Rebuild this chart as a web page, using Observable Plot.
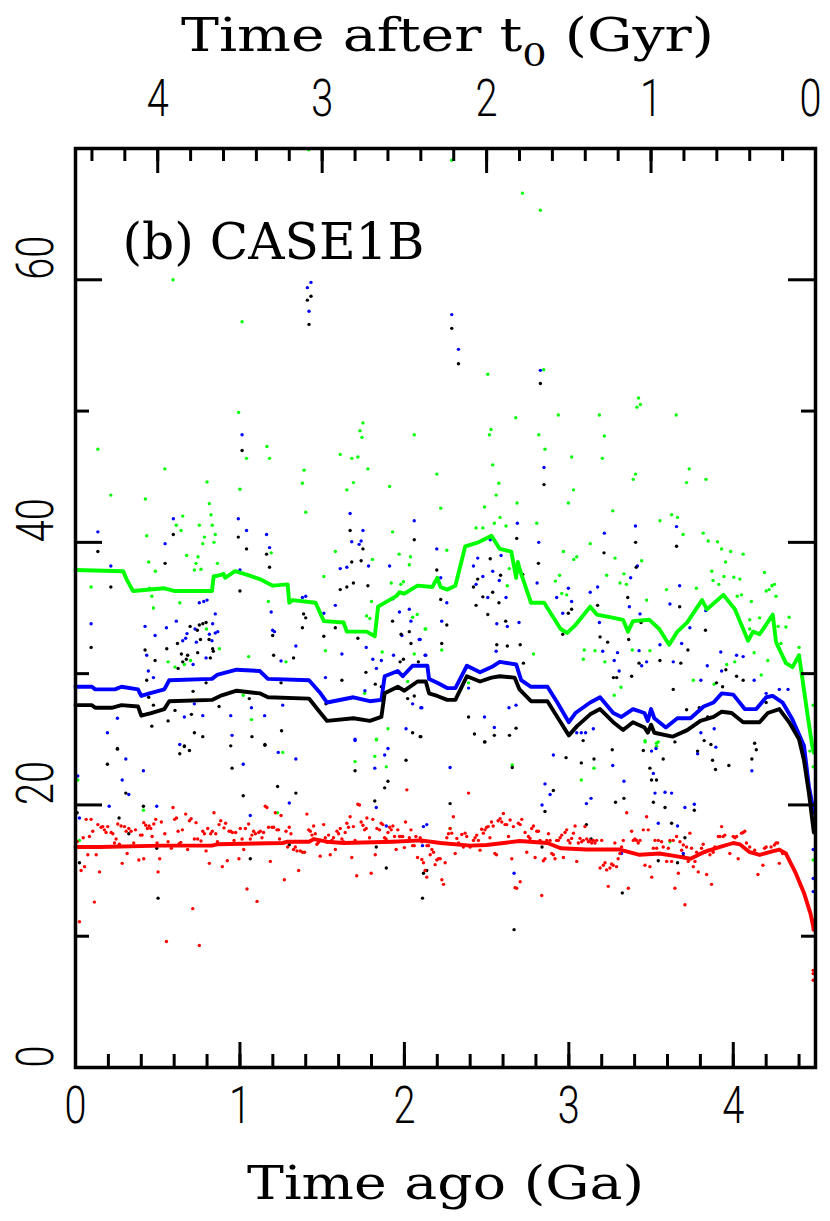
<!DOCTYPE html>
<html><head><meta charset="utf-8">
<script src="https://cdn.jsdelivr.net/npm/d3@7"></script>
<script src="https://cdn.jsdelivr.net/npm/@observablehq/plot@0.6"></script>
<style>body{margin:0;background:#fff}</style>
</head><body><div id="chart"></div>
<script>
// ---------- axis definitions ----------
const T_TOTAL = 4.5;                 // Ga: x = "time ago"; top axis = T_TOTAL - ago
const xDomain = [0, 4.5];
const yDomain = [0, 70];
const xMajor = [0, 1, 2, 3, 4];
const xMinor = d3.range(0.2, 4.45, 0.2);
const topMajor = [4, 3, 2, 1, 0];     // "Time after t0" labels
const topMinor = d3.range(0.2, 4.45, 0.2);
const yMajor = [0, 20, 40, 60];
const yMinor = [10, 30, 50];
const topTitle = "Time after t0 (Gyr)";
const bottomTitle = "Time ago (Ga)";
const panelLabel = "(b) CASE1B";

// ---------- running lines [t, value] ----------
const greenLine = [[0,37.9],[0.29,37.8],[0.31,37.2],[0.35,36.3],[0.54,36.5],[0.60,36.3],[0.83,36.3],[0.84,37.4],[0.88,37.5],[0.90,37.6],[0.91,37.3],[0.97,37.8],[1.05,37.5],[1.12,37.2],[1.20,36.7],[1.29,36.8],[1.30,35.4],[1.32,35.6],[1.46,35.4],[1.51,34.0],[1.63,33.9],[1.65,33.2],[1.77,33.2],[1.82,32.85],[1.84,35.1],[1.95,35.9],[1.97,36.2],[2.0,36.1],[2.08,36.7],[2.17,36.6],[2.20,37.3],[2.22,36.6],[2.26,36.4],[2.31,36.7],[2.37,39.7],[2.45,40.0],[2.53,40.5],[2.58,39.5],[2.65,39.3],[2.68,37.3],[2.69,38.5],[2.70,38.0],[2.74,36.5],[2.77,35.4],[2.85,35.4],[2.95,33.4],[2.99,33.1],[3.04,33.7],[3.13,35.1],[3.17,34.5],[3.25,34.3],[3.33,34.1],[3.36,33.2],[3.39,34.0],[3.49,34.1],[3.55,33.4],[3.61,32.2],[3.66,33.2],[3.72,33.9],[3.81,35.6],[3.84,34.9],[3.94,36.0],[4.01,34.9],[4.09,32.5],[4.12,33.2],[4.16,33.0],[4.24,34.5],[4.26,32.4],[4.32,30.8],[4.36,30.5],[4.40,31.4],[4.45,27.0],[4.48,24.5],[4.49,24.0]];
const blueLine = [[0,29.0],[0.10,29.0],[0.12,28.8],[0.24,28.8],[0.28,29.0],[0.38,28.8],[0.40,28.3],[0.45,28.5],[0.54,28.8],[0.57,29.5],[0.83,29.6],[0.86,29.9],[0.98,30.3],[1.12,30.2],[1.17,29.6],[1.42,29.5],[1.49,28.5],[1.53,27.8],[1.69,28.2],[1.79,27.9],[1.86,28.0],[1.88,29.8],[1.96,30.2],[1.99,29.8],[2.05,30.6],[2.14,30.6],[2.15,29.6],[2.20,29.3],[2.26,28.9],[2.31,28.9],[2.38,30.6],[2.46,30.1],[2.53,30.5],[2.58,30.9],[2.68,30.7],[2.71,29.5],[2.77,29.0],[2.87,29.0],[2.93,27.8],[3.00,26.3],[3.04,27.0],[3.13,27.8],[3.19,28.2],[3.27,27.0],[3.32,26.7],[3.39,27.3],[3.46,27.0],[3.48,26.4],[3.50,27.3],[3.52,26.6],[3.59,25.9],[3.66,26.6],[3.74,26.6],[3.82,27.5],[3.88,27.8],[3.93,28.5],[4.00,28.4],[4.07,27.3],[4.14,27.3],[4.20,28.2],[4.24,28.3],[4.30,27.8],[4.36,26.5],[4.43,24.5],[4.46,21.4],[4.49,19.4]];
const blackLine = [[0,27.6],[0.10,27.6],[0.12,27.4],[0.22,27.4],[0.28,27.6],[0.38,27.5],[0.40,26.8],[0.46,27.0],[0.54,27.3],[0.57,27.9],[0.83,28.0],[0.88,28.3],[0.98,28.7],[1.12,28.5],[1.17,28.2],[1.42,28.1],[1.49,27.0],[1.53,26.4],[1.69,26.6],[1.79,26.4],[1.86,26.7],[1.88,28.5],[1.96,29.0],[2.00,28.7],[2.08,29.4],[2.13,29.4],[2.15,28.5],[2.20,28.3],[2.26,28.0],[2.31,28.0],[2.38,29.8],[2.46,29.4],[2.53,29.7],[2.58,29.8],[2.67,29.7],[2.70,28.8],[2.77,27.9],[2.87,27.9],[2.93,26.7],[3.00,25.3],[3.05,26.0],[3.13,26.9],[3.19,27.3],[3.27,26.3],[3.33,25.7],[3.39,26.3],[3.46,25.9],[3.48,25.5],[3.50,26.1],[3.52,25.5],[3.63,25.2],[3.72,25.7],[3.80,26.4],[3.88,26.7],[3.93,27.1],[3.99,27.0],[4.06,26.3],[4.16,26.3],[4.21,27.0],[4.28,27.3],[4.34,26.3],[4.40,25.0],[4.43,23.4],[4.46,20.9],[4.49,17.9]];
const redLine = [[0,16.8],[0.15,16.8],[0.52,16.9],[0.83,16.9],[0.86,17.0],[1.26,17.1],[1.29,17.2],[1.42,17.2],[1.45,17.4],[1.53,17.2],[1.63,17.1],[1.93,17.2],[2.10,17.3],[2.22,17.1],[2.40,16.9],[2.50,16.95],[2.70,17.25],[2.87,17.1],[2.95,16.7],[3.11,16.6],[3.31,16.6],[3.43,16.2],[3.55,16.3],[3.65,16.1],[3.74,15.9],[3.82,16.4],[3.92,16.8],[4.00,17.1],[4.04,17.0],[4.10,16.4],[4.16,16.2],[4.22,16.4],[4.28,16.6],[4.32,16.3],[4.38,14.8],[4.43,13.3],[4.47,11.7],[4.49,10.5]];

// ---------- individual samples [t, value] ----------
const greenPts = [[1.418,69.9],[0.593,60.0],[1.013,56.8],[0.992,49.9],[0.136,47.1],[1.164,47.3],[1.748,49.1],[1.73,48.5],[1.742,48.0],[2.06,48.2],[1.61,46.7],
[2.288,69.1],[2.718,66.6],[2.827,65.3],[2.507,52.8],[2.847,53.15],[2.677,49.5],[2.936,49.7],[3.186,49.7],[2.527,48.6],[2.517,48.2],[2.817,48.2],[3.216,48.1],[2.855,47.1],[3.017,46.5],[3.204,46.4],[3.424,51.0],[3.435,50.5],[3.414,50.3],[3.653,49.7],
[0.543,45.6],[0.215,43.6],[0.425,43.3],[0.80,44.6],[0.814,42.95],[0.824,42.1],[1.0,44.05],[1.04,46.4],[1.18,46.4],[1.39,45.5],[1.38,44.5],[1.40,42.3],[1.68,46.4],[1.717,46.5],[1.69,44.55],[1.65,44.0],[1.778,45.6],[1.91,44.25],[2.197,45.2],[1.928,40.8],[0.652,42.0],[0.613,41.3],[0.642,40.9],[0.433,40.5],[0.753,41.3],[0.832,41.3],[0.784,40.4],[0.85,40.6],[0.774,39.9],[0.842,40.0],[0.676,39.0],[0.745,38.9],[0.733,38.4],[0.445,38.5],[0.723,37.9],[0.763,37.95],[0.486,37.8],[0.863,38.4],[0.095,36.6],[0.45,36.5],[0.464,35.9],[0.474,35.0],[0.634,35.4],[1.58,39.3],[1.51,37.4],[1.806,38.7],[1.968,39.1],[2.037,38.9],[2.03,38.3],[1.92,36.9],[1.978,36.8],[1.994,37.0],[2.13,33.4],[2.078,34.5],[2.05,34.3],[1.80,35.5],[1.77,34.4],[1.79,34.2],[1.173,35.5],[1.19,39.2],[1.053,31.3],[0.796,33.4],[0.875,31.9],[0.563,30.9],[0.605,30.5],[0.662,30.7],[0.70,31.0],[1.52,31.75],[1.28,30.9],[1.865,31.65],[2.06,31.5],[2.02,29.4],[1.758,28.5],[1.02,28.35],[1.07,26.5],[1.90,25.8],[1.83,24.96],
[2.537,45.9],[2.574,44.5],[2.558,43.6],[2.487,42.7],[2.436,41.1],[2.477,41.1],[2.547,41.45],[2.582,41.9],[2.618,41.25],[2.685,43.0],[2.805,41.45],[2.997,43.0],[3.028,44.0],[2.221,42.6],[2.258,39.4],[2.126,33.4],[2.227,31.8],[2.638,38.0],[2.626,36.7],[3.267,42.4],[3.392,44.8],[3.406,45.2],[3.554,41.65],[3.625,42.1],[3.661,41.9],[3.695,40.6],[3.716,44.55],[3.732,45.6],[3.834,44.8],[3.817,40.7],[3.848,40.1],[3.904,40.05],[3.953,38.5],[3.943,37.4],[3.984,39.3],[4.06,39.1],[3.929,39.5],[3.869,37.8],[3.877,37.1],[3.912,36.8],[4.003,37.35],[4.04,37.2],[4.024,35.9],[4.05,36.0],[4.11,35.5],[4.19,37.7],[4.2,36.3],[4.235,36.7],[4.25,36.8],[4.26,35.9],[4.218,36.4],[4.273,33.6],[4.32,33.55],[4.29,32.3],[4.34,34.3],[4.40,32.0],[4.16,34.25],[4.1,34.1],[4.10,33.4],[4.127,31.6],[4.21,31.0],[4.17,29.9],[4.009,30.9],[3.96,30.7],[3.594,36.4],[3.776,36.5],[3.443,38.6],[3.473,35.6],[3.335,37.6],[3.35,36.8],[3.311,36.9],[3.281,38.8],[3.23,37.5],[3.13,39.9],[3.048,38.9],[3.03,38.7],[2.967,39.3],[2.944,37.5],[2.918,37.05],[2.957,36.1],[2.987,36.0],[3.094,31.8],[3.088,31.1],[3.159,31.75],[3.219,30.9],[3.386,31.8],[3.493,31.75],[3.276,28.35],[3.317,28.96],[2.785,31.5],[2.39,29.3],[3.463,24.9],[3.533,24.7],[4.486,27.6],[3.757,29.5],[3.884,29.2],
[0.014,21.9],[0.024,17.3],[0.413,19.6],[1.229,19.4],[1.26,24.0],[1.70,23.3],[1.82,23.7],[1.83,25.0],[1.89,22.9],
[2.656,23.05],[2.278,18.2],[3.076,21.9],[3.153,22.8],[3.464,24.8],[3.533,24.45],[3.544,24.8],[3.615,17.2],[4.466,24.1],[4.486,22.9],[4.486,19.6],[4.486,15.8]];

const bluePts = [[1.432,59.8],[1.41,59.4],[1.42,57.6],[1.013,48.2],[2.288,57.35],[2.329,54.7],[2.827,53.1],
[0.136,40.8],[0.215,38.2],[0.095,33.8],[0.595,41.8],[0.545,39.9],[0.99,41.8],[1.04,40.9],[1.162,40.6],[1.18,39.6],[1.0,37.9],[0.753,35.4],[0.78,35.5],[0.80,35.6],[0.85,34.55],[0.613,34.0],[0.834,33.8],[0.865,33.2],[0.85,33.1],[0.423,33.6],[0.484,32.9],[0.553,33.5],[0.678,33.05],[0.67,32.7],[0.652,32.5],[0.735,32.4],[0.727,33.4],[0.814,33.0],[0.83,32.5],[0.433,31.4],[0.794,31.2],[0.715,30.7],[0.443,30.2],[0.474,29.7],[1.67,42.2],[1.68,40.05],[1.737,40.1],[1.748,40.9],[1.725,39.85],[1.782,38.2],[1.65,38.1],[1.61,38.0],[1.91,38.2],[1.93,35.7],[2.06,41.65],[2.197,39.5],[1.97,34.7],[2.03,34.9],[2.04,34.0],[1.985,32.9],[1.51,34.6],[1.58,35.2],[1.40,35.9],[1.38,35.8],[1.19,34.7],[1.21,33.2],[1.199,33.3],[1.62,31.5],[1.768,32.0],[1.808,31.1],[1.86,31.0],[1.83,30.4],[1.934,31.4],[2.13,31.4],[2.09,32.6],[1.25,30.97],[1.34,32.1],[1.52,29.7],[1.76,28.7],[2.05,27.7],[2.10,27.4],[1.26,27.6],[1.15,26.8],[1.07,27.4],[0.944,26.8],[0.774,26.8],[0.662,26.7],[0.723,27.7],[0.255,26.6],[0.194,25.5],[0.952,25.3],[0.634,24.6],[1.70,25.0],[2.01,25.8],[1.90,24.3],
[2.849,45.7],[2.221,37.3],[2.258,35.4],[2.227,34.0],[2.126,31.4],[2.42,38.2],[2.446,38.8],[2.436,36.8],[2.477,37.4],[2.507,35.8],[2.537,37.8],[2.577,37.1],[2.588,39.0],[2.522,40.2],[2.687,41.45],[2.817,40.0],[2.807,36.9],[2.562,33.8],[2.618,35.8],[2.626,33.6],[2.697,33.9],[2.558,31.7],[2.636,27.4],[2.679,27.6],[2.547,25.9],[2.487,26.7],[2.39,28.9],[3.017,35.5],[2.926,35.8],[2.963,34.6],[2.997,36.5],[3.13,36.2],[3.175,36.6],[3.216,40.7],[3.186,33.9],[3.206,31.7],[3.276,31.0],[3.296,31.6],[3.306,30.2],[3.368,35.1],[3.376,37.3],[3.405,41.25],[3.417,38.2],[3.433,34.55],[3.427,31.75],[3.473,30.9],[3.443,30.6],[3.554,32.2],[3.655,41.2],[3.674,36.7],[3.615,35.3],[3.635,30.9],[3.686,32.3],[3.736,33.5],[3.803,29.5],[3.842,30.6],[3.924,31.65],[3.929,30.2],[4.02,31.4],[4.06,31.3],[4.127,29.5],[4.28,28.8],[4.333,28.8],[4.2,28.5],[3.803,25.5],[3.884,25.8],[3.833,34.8],[2.096,32.6],[2.106,27.4],[3.076,25.5],[3.048,25.5],[3.149,25.8],[3.102,25.5],
[0.014,22.2],[0.024,19.0],[0.205,19.9],[0.284,21.9],[0.306,23.5],[0.324,20.8],[0.413,22.6],[0.494,19.9],[1.02,23.1],[1.063,19.2],[1.233,24.0],[1.34,23.5],[1.30,20.15],[1.70,24.9],[1.82,22.8],[1.88,23.8],[1.829,19.8],[1.89,18.4],[2.11,16.9],[2.116,18.35],[2.136,18.5],
[2.278,22.85],[2.667,14.8],[2.906,23.8],[2.837,20.0],[2.855,21.6],[2.886,20.8],[3.107,20.1],[3.135,20.5],[3.267,23.0],[3.335,21.8],[3.503,24.1],[3.514,22.4],[3.524,20.9],[3.53,24.3],[3.544,18.6],[3.585,20.97],[3.625,20.9],[3.661,18.4],[3.706,19.8],[3.763,20.05],[3.783,23.9],[3.894,24.4],[4.113,22.6],[3.32,16.3],[3.696,16.3],[4.486,20.1],[4.486,16.6],[4.486,14.4],[4.486,13.4]];

const blackPts = [[1.432,58.75],[1.41,58.45],[1.42,56.6],[1.013,47.0],[2.288,56.3],[2.329,53.6],[2.827,52.1],
[0.136,39.3],[0.215,36.6],[0.095,32.0],[0.595,40.6],[0.545,38.4],[0.99,40.4],[1.04,39.5],[1.162,39.1],[1.18,38.1],[1.0,36.3],[1.67,40.9],[1.68,38.5],[1.737,38.6],[1.748,39.5],[1.69,36.9],[1.65,36.6],[1.61,36.4],[1.778,36.7],[2.06,40.2],[2.197,37.9],[1.387,34.55],[1.40,34.25],[1.38,33.5],[1.51,32.85],[1.58,33.5],[1.717,32.7],[1.928,34.0],[2.03,33.2],[1.98,33.0],[2.04,32.3],[1.994,31.1],[2.085,30.9],[0.753,33.7],[0.774,33.8],[0.794,33.9],[0.697,33.6],[0.741,33.3],[0.76,32.6],[0.812,32.6],[0.834,31.9],[0.838,31.7],[0.62,32.3],[0.644,31.5],[0.682,31.4],[0.674,31.1],[0.652,30.9],[0.743,31.6],[0.624,30.4],[0.82,31.2],[0.555,31.9],[0.484,31.0],[0.423,31.8],[0.433,29.5],[0.445,28.2],[0.474,27.6],[1.199,32.9],[1.205,31.4],[1.326,31.2],[1.62,29.5],[1.766,30.1],[1.823,29.2],[1.86,29.0],[1.974,30.9],[2.02,28.1],[2.06,28.3],[1.25,29.3],[0.794,29.3],[0.715,28.65],[0.873,27.5],[1.057,28.1],[0.605,27.2],[0.705,26.9],[0.464,26.0],[0.563,26.4],[0.723,25.5],[0.774,25.2],[1.073,25.2],[1.253,25.65],[1.152,24.6],[0.944,24.5],[0.662,24.45],[0.255,24.3],[2.05,25.5],[2.10,25.2],[1.523,27.7],
[2.849,44.4],[2.683,40.3],[2.815,38.4],[2.522,38.75],[2.42,36.6],[2.446,37.2],[2.477,35.85],[2.537,36.2],[2.585,37.5],[2.575,35.4],[2.436,35.2],[2.507,34.5],[2.221,35.65],[2.258,33.7],[2.227,32.3],[2.616,34.0],[2.626,32.1],[2.704,32.2],[2.562,32.2],[2.72,37.55],[2.724,30.8],[2.39,26.7],[2.426,25.4],[2.547,25.3],[2.639,25.3],[2.679,25.85],[2.487,24.8],[2.096,25.2],[3.017,34.9],[2.963,33.0],[2.997,34.6],[3.175,35.2],[3.19,32.8],[3.236,32.4],[3.214,39.2],[3.271,29.7],[3.291,29.7],[3.382,29.8],[3.358,35.8],[3.364,32.6],[3.406,40.0],[3.41,38.1],[3.427,30.8],[3.439,33.9],[3.554,31.0],[3.635,28.8],[3.681,30.8],[3.655,39.7],[3.674,35.1],[3.724,31.8],[3.831,33.3],[3.898,29.3],[3.935,29.0],[3.955,30.3],[4.02,29.8],[4.06,29.5],[4.2,27.8],[4.233,28.3],[3.716,27.25],[3.793,27.4],[3.844,26.7],
[0.194,23.1],[0.255,24.25],[0.306,20.9],[0.324,17.8],[0.413,19.9],[0.494,16.7],[0.502,12.9],[0.634,23.9],[0.662,24.5],[0.693,24.15],[0.952,22.8],[1.02,20.7],[1.063,15.9],[1.152,24.55],[1.229,21.4],[1.34,20.9],[1.30,16.97],[1.70,22.6],[1.82,20.3],[1.88,21.3],[1.90,21.8],[1.829,16.8],[1.89,15.2],[2.01,23.4],[2.11,12.9],[2.116,14.8],[2.136,15.0],[0.01,19.4],[0.024,15.6],[0.265,19.0],
[2.278,20.1],[2.49,24.8],[2.656,22.85],[2.667,10.5],[2.837,16.8],[2.855,19.5],[2.906,21.1],[2.983,23.6],[3.076,23.2],[3.087,24.9],[3.153,23.5],[3.135,17.4],[3.107,18.5],[3.264,24.2],[3.284,20.2],[3.335,20.5],[3.325,13.3],[3.453,24.15],[3.493,22.8],[3.503,21.9],[3.514,20.2],[3.533,21.9],[3.544,15.75],[3.574,23.5],[3.585,19.8],[3.625,18.6],[3.645,24.8],[3.661,15.6],[3.696,16.1],[3.706,17.5],[3.763,19.6],[3.783,24.1],[3.823,24.9],[3.864,24.6],[3.874,23.4],[3.892,22.7],[3.973,23.0],[4.113,23.5],[4.13,24.7],[4.14,24.2]];

const redPts = [[0.01,17.2],[0.024,11.1],[0.034,15.0],[0.047,17.5],[0.055,15.3],[0.065,18.9],[0.085,17.6],[0.075,16.2],[0.095,18.9],[0.105,18.0],[0.115,12.6],[0.126,16.2],[0.136,18.5],[0.146,14.9],[0.156,18.3],[0.166,18.35],[0.176,18.1],[0.186,17.9],[0.196,18.35],[0.217,17.9],[0.227,17.8],[0.237,17.1],[0.247,17.4],[0.257,18.55],[0.267,17.0],[0.277,18.4],[0.284,15.55],[0.298,18.35],[0.308,18.0],[0.314,16.3],[0.324,18.2],[0.338,18.0],[0.354,17.1],[0.365,18.1],[0.385,15.8],[0.395,17.7],[0.405,17.7],[0.415,18.65],[0.415,15.9],[0.427,18.45],[0.437,18.2],[0.448,18.4],[0.458,18.2],[0.466,17.6],[0.476,18.55],[0.488,18.9],[0.496,17.1],[0.502,14.9],[0.512,15.9],[0.522,18.7],[0.543,17.8],[0.553,9.6],[0.563,17.2],[0.583,16.7],[0.593,19.8],[0.603,18.9],[0.614,19.0],[0.624,18.0],[0.63,17.05],[0.64,17.15],[0.65,18.1],[0.67,19.3],[0.682,16.6],[0.693,18.8],[0.703,18.95],[0.713,12.1],[0.723,17.4],[0.733,18.65],[0.743,17.4],[0.753,9.3],[0.763,17.25],[0.774,18.0],[0.784,17.8],[0.794,16.5],[0.804,18.2],[0.814,15.55],[0.822,17.8],[0.832,18.0],[0.842,19.4],[0.853,17.8],[0.863,17.2],[0.873,18.5],[0.883,18.8],[0.893,15.3],[0.903,18.25],[0.913,18.6],[0.923,15.75],[0.934,18.0],[0.944,18.0],[0.954,17.9],[0.964,17.3],[0.974,17.9],[0.994,15.9],[1.002,18.2],[1.013,17.4],[1.023,16.6],[1.033,18.2],[1.043,13.6],[1.053,18.55],[1.063,17.4],[1.073,17.7],[1.083,18.0],[1.094,17.8],[1.104,12.65],[1.114,17.9],[1.124,18.0],[1.134,17.5],[1.144,17.9],[1.154,19.9],[1.164,19.8],[1.174,18.3],[1.185,15.7],[1.195,18.3],[1.205,18.3],[1.215,19.4],[1.225,18.1],[1.235,18.1],[1.241,17.4],[1.25,19.2],[1.27,14.3],[1.28,18.0],[1.29,16.8],[1.30,18.3],[1.31,17.8],[1.316,17.2],[1.326,16.6],[1.337,16.8],[1.347,16.5],[1.357,15.0],[1.367,16.5],[1.381,16.4],[1.393,16.4],[1.407,19.3],[1.418,18.1],[1.428,18.0],[1.438,17.7],[1.448,18.4],[1.458,17.8],[1.468,17.0],[1.478,17.15],[1.488,16.1],[1.509,18.5],[1.519,17.5],[1.529,17.15],[1.539,17.7],[1.549,16.2],[1.559,17.3],[1.569,17.5],[1.58,16.6],[1.59,18.0],[1.60,17.8],[1.61,18.2],[1.62,17.4],[1.63,17.2],[1.64,17.9],[1.65,18.6],[1.66,18.3],[1.67,19.1],[1.68,16.0],[1.69,18.35],[1.70,17.3],[1.71,14.6],[1.717,20.05],[1.727,20.0],[1.737,18.7],[1.748,18.45],[1.758,18.1],[1.768,18.2],[1.772,19.0],[1.788,17.5],[1.798,14.8],[1.808,18.9],[1.823,16.2],[1.833,18.2],[1.849,18.1],[1.859,18.6],[1.869,18.5],[1.879,17.5],[1.889,17.4],[1.90,17.9],[1.91,18.3],[1.92,18.1],[1.93,18.4],[1.94,17.6],[1.95,16.6],[1.96,18.1],[1.97,17.6],[1.98,17.6],[1.99,17.6],[2.0,16.75],[2.007,18.7],[2.015,21.15],[2.03,17.5],[2.04,18.1],[2.05,16.9],[2.06,16.9],[2.07,17.6],[2.08,16.0],[2.096,17.5],[2.106,15.85],[2.116,15.6],[2.126,15.0],[2.136,14.5],[2.147,16.9],[2.157,16.2],[2.167,16.6],[2.177,16.4],[2.187,15.45],[2.197,15.8],[2.207,15.9],
[2.106,17.2],[2.137,16.9],[2.218,15.9],[2.228,14.3],[2.238,13.95],[2.248,15.6],[2.258,17.5],[2.268,17.8],[2.278,18.2],[2.288,17.85],[2.298,19.1],[2.309,16.3],[2.319,17.45],[2.329,17.1],[2.349,17.75],[2.359,16.8],[2.369,17.85],[2.379,17.6],[2.39,20.9],[2.40,16.8],[2.42,17.3],[2.43,17.5],[2.44,17.7],[2.45,17.3],[2.46,16.55],[2.47,18.15],[2.48,17.85],[2.49,18.1],[2.50,18.3],[2.51,18.35],[2.52,17.5],[2.53,18.7],[2.54,18.4],[2.55,16.3],[2.56,16.2],[2.57,18.8],[2.582,18.95],[2.592,18.7],[2.602,19.35],[2.612,18.5],[2.622,18.5],[2.633,17.6],[2.643,18.85],[2.653,15.9],[2.663,18.35],[2.673,13.7],[2.683,13.65],[2.693,18.6],[2.704,18.5],[2.714,18.9],[2.704,14.15],[2.734,17.9],[2.744,16.4],[2.754,17.6],[2.764,17.45],[2.774,18.2],[2.785,18.4],[2.795,16.0],[2.805,18.0],[2.815,18.0],[2.825,17.3],[2.835,13.1],[2.845,15.75],[2.855,15.9],[2.866,17.3],[2.876,17.8],[2.886,17.3],[2.896,16.3],[2.906,16.2],[2.916,15.9],[2.926,17.3],[2.936,17.3],[2.947,17.5],[2.957,17.7],[2.967,16.0],[2.977,17.9],[2.987,18.1],[2.997,17.3],[3.007,17.1],[3.017,17.45],[3.028,17.85],[3.038,18.4],[3.048,15.7],[3.058,17.1],[3.068,17.45],[3.078,17.2],[3.088,17.3],[3.098,18.35],[3.109,17.4],[3.119,17.2],[3.129,17.3],[3.139,17.1],[3.149,17.3],[3.159,17.1],[3.169,17.3],[3.19,15.2],[3.20,17.3],[3.21,15.4],[3.22,15.6],[3.23,15.05],[3.24,13.8],[3.25,15.2],[3.26,15.5],[3.27,15.4],[3.28,17.1],[3.29,15.3],[3.30,15.9],[3.311,16.3],[3.321,16.8],[3.331,17.3],[3.352,19.4],[3.362,13.65],[3.382,18.0],[3.392,17.3],[3.402,17.4],[3.412,17.3],[3.422,17.1],[3.433,17.3],[3.453,18.1],[3.463,15.4],[3.473,19.1],[3.483,18.1],[3.493,15.3],[3.504,14.5],[3.514,16.7],[3.524,17.3],[3.534,16.7],[3.544,17.3],[3.554,16.3],[3.564,17.2],[3.574,16.8],[3.595,15.7],[3.605,16.7],[3.615,17.3],[3.625,15.7],[3.635,17.3],[3.645,13.65],[3.655,17.6],[3.666,14.8],[3.676,17.2],[3.686,16.55],[3.696,16.95],[3.706,12.4],[3.716,16.8],[3.726,15.7],[3.736,17.85],[3.746,16.7],[3.757,15.3],[3.767,15.7],[3.777,16.4],[3.787,14.9],[3.797,16.3],[3.807,16.7],[3.817,17.0],[3.828,16.4],[3.838,14.7],[3.848,16.55],[3.858,16.2],[3.868,13.95],[3.878,16.4],[3.888,16.8],[3.909,17.6],[3.919,17.6],[3.929,18.35],[3.939,17.6],[3.949,17.7],[3.979,16.3],[4.0,17.6],[4.01,17.5],[4.02,17.6],[4.03,15.9],[4.05,17.85],[4.06,17.9],[4.07,18.0],[4.08,17.1],[4.10,16.8],[4.13,16.55],[4.15,14.7],[4.16,16.2],[4.18,15.4],[4.19,16.7],[4.20,16.8],[4.23,16.8],[4.25,16.95],[4.26,17.1],[4.27,17.1],[4.28,15.55],[4.30,16.3],[4.32,16.3],[4.486,11.2],[4.486,10.5],[4.486,7.4],[4.486,7.15],[4.486,6.65]];

// ---------- layout ----------
const W = 830, H = 1221, mL = 75, mR = 15, mT = 148, mB = 154;
const innerW = W - mL - mR, innerH = H - mT - mB;
const MAJ = 25, MIN = 13;
const DIGIT_FONT = "Roboto, 'DejaVu Sans', sans-serif";
const TITLE_FONT = "'DejaVu Serif', 'Liberation Serif', serif";
const GREEN = "#00ff00", BLUE = "#0000ff", BLACK = "#000000", RED = "#ff0000";
const px = d => d[0], py = d => d[1];
const tick = {stroke: "black", strokeWidth: 3};
const R = 1.7, LW = 3.9;
const digitStyle = {fontSize: 52, fontWeight: 300, fontFamily: DIGIT_FONT, fill: "black"};
const topLabelInner = topMajor.filter(d => d !== 0);
const topLabelEdge = topMajor.filter(d => d === 0);   // sits on the right frame edge

const svg = Plot.plot({
  width: W, height: H, marginLeft: mL, marginRight: mR, marginTop: mT, marginBottom: mB,
  x: {domain: xDomain, axis: null},
  y: {domain: yDomain, axis: null},
  style: {background: "white"},
  marks: [
    Plot.dot(greenPts, {x: px, y: py, r: R, fill: GREEN, clip: true}),
    Plot.dot(bluePts,  {x: px, y: py, r: R, fill: BLUE, clip: true}),
    Plot.dot(blackPts, {x: px, y: py, r: R, fill: BLACK, clip: true}),
    Plot.dot(redPts,   {x: px, y: py, r: R, fill: RED, clip: true}),
    Plot.line(greenLine, {x: px, y: py, stroke: GREEN, strokeWidth: LW, strokeLinejoin: "round"}),
    Plot.line(blueLine,  {x: px, y: py, stroke: BLUE, strokeWidth: LW, strokeLinejoin: "round"}),
    Plot.line(blackLine, {x: px, y: py, stroke: BLACK, strokeWidth: LW, strokeLinejoin: "round"}),
    Plot.line(redLine,   {x: px, y: py, stroke: RED, strokeWidth: LW, strokeLinejoin: "round"}),
    // bottom ticks
    Plot.tickX(xMajor, {x: d => d, insetTop: innerH - MAJ, ...tick}),
    Plot.tickX(xMinor, {x: d => d, insetTop: innerH - MIN, ...tick}),
    // top ticks (Time after t0)
    Plot.tickX(topMajor, {x: d => T_TOTAL - d, insetBottom: innerH - MAJ, ...tick}),
    Plot.tickX(topMinor, {x: d => T_TOTAL - d, insetBottom: innerH - MIN, ...tick}),
    // left / right ticks
    Plot.tickY(yMajor, {y: d => d, insetRight: innerW - MAJ - 2, ...tick}),
    Plot.tickY(yMinor, {y: d => d, insetRight: innerW - MIN - 1, ...tick}),
    Plot.tickY(yMajor, {y: d => d, insetLeft: innerW - MAJ - 2, ...tick}),
    Plot.tickY(yMinor, {y: d => d, insetLeft: innerW - MIN - 1, ...tick}),
    Plot.frame({stroke: "black", strokeWidth: 3.5}),
    // tick labels
    Plot.text(xMajor, {x: d => d, text: d => String(d), frameAnchor: "bottom", dy: 55, lineAnchor: "bottom", ...digitStyle}),
    Plot.text(topLabelInner, {x: d => T_TOTAL - d, text: d => String(d), frameAnchor: "top", dy: -33, lineAnchor: "bottom", ...digitStyle}),
    Plot.text(topLabelEdge, {x: d => T_TOTAL - d, text: d => String(d), frameAnchor: "top", dy: -33, dx: -5, lineAnchor: "bottom", ...digitStyle}),
    Plot.text(yMajor, {y: d => d, text: d => String(d), frameAnchor: "left", dx: -23, rotate: -90, lineAnchor: "bottom", ...digitStyle}),
    // titles
    Plot.text([bottomTitle], {text: d => d, frameAnchor: "bottom", dy: 131, lineAnchor: "bottom", fontSize: 46, fontFamily: TITLE_FONT, fill: "black"}),
    Plot.text([topTitle], {text: d => d, frameAnchor: "top", dy: -98, dx: 2, lineAnchor: "bottom", fontSize: 46, fontFamily: TITLE_FONT, fill: "black"}),
    Plot.text([panelLabel], {text: d => d, frameAnchor: "top-left", dx: 47, dy: 110, textAnchor: "start", lineAnchor: "bottom", fontSize: 50, fontFamily: TITLE_FONT, fill: "black"})
  ]
});

// glyph widths tuned to the narrow plotter fonts of the original
d3.select(svg).selectAll("text").each(function () {
  const s = this.textContent;
  if (/^\d+$/.test(s)) {
    this.setAttribute("textLength", 22 * s.length);
    this.setAttribute("lengthAdjust", "spacingAndGlyphs");
  } else if (s === bottomTitle) {
    this.setAttribute("textLength", 397);
    this.setAttribute("lengthAdjust", "spacingAndGlyphs");
  } else if (s === panelLabel) {
    this.setAttribute("textLength", 302);
    this.setAttribute("lengthAdjust", "spacingAndGlyphs");
  } else if (s === topTitle) {
    this.textContent = "";
    const ns = "http://www.w3.org/2000/svg";
    const a = document.createElementNS(ns, "tspan"); a.textContent = "Time after t";
    const b = document.createElementNS(ns, "tspan"); b.textContent = "0"; b.setAttribute("dy", "15"); b.setAttribute("font-size", "31");
    const c = document.createElementNS(ns, "tspan"); c.textContent = " (Gyr)"; c.setAttribute("dy", "-15");
    this.append(a, b, c);
    this.setAttribute("textLength", 533);
    this.setAttribute("lengthAdjust", "spacingAndGlyphs");
  }
});
document.getElementById("chart").append(svg);
</script>
</body></html>
